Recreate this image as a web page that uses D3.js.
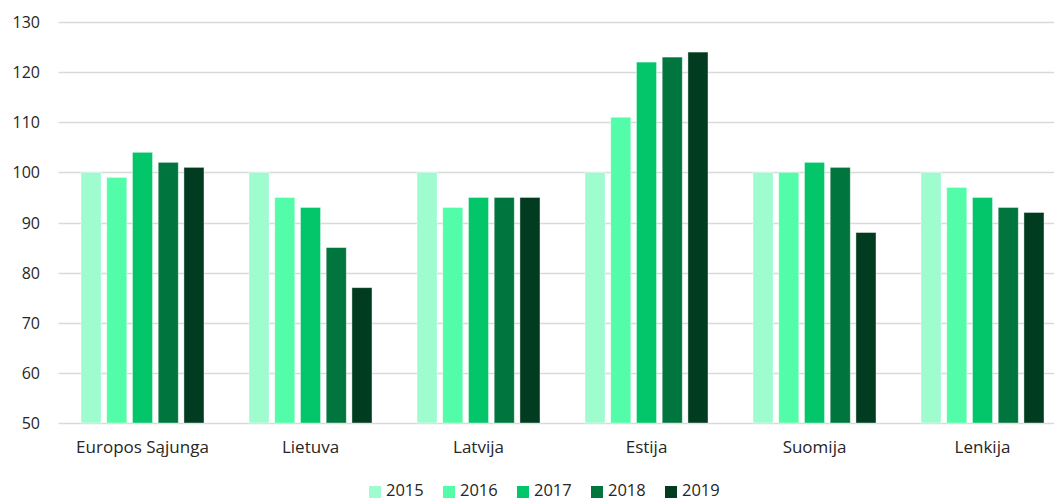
<!DOCTYPE html>
<html><head><meta charset="utf-8">
<script src="https://cdn.jsdelivr.net/npm/d3@7"></script>
<style>
html,body{margin:0;padding:0;background:#fff;overflow:hidden}
text{font-family:"Open Sans",Lato,sans-serif;fill:#262626}
</style></head>
<body><svg id="c" width="1054" height="501"></svg>
<script>
const categories = ["Europos Sąjunga","Lietuva","Latvija","Estija","Suomija","Lenkija"];
const years = ["2015","2016","2017","2018","2019"];
const v2015 = [100,100,100,100,100,100];
const v2016 = [99,95,93,111,100,97];
const v2017 = [104,93,95,122,102,95];
const v2018 = [102,85,95,123,101,93];
const v2019 = [101,77,95,124,88,92];
const yTicks = [50,60,70,80,90,100,110,120,130];
const colors = ["#9ffccf","#53fca8","#03c66a","#00753d","#013c20"];
const series = [v2015,v2016,v2017,v2018,v2019];

const svg = d3.select("#c");
const x0 = d3.scaleBand().domain(categories).range([58.5,1066.5]).paddingInner(0).paddingOuter(0);
const x1 = d3.scaleBand().domain(years).range([22.5, 168-22.5]).paddingInner(0.22).paddingOuter(0);
const y = d3.scaleLinear().domain([50,130]).range([423,22]);

// grid
svg.append("g").selectAll("line").data(yTicks).join("line")
  .attr("x1",58.5).attr("x2",1066).attr("y1",d=>Math.round(y(d))+0.5).attr("y2",d=>Math.round(y(d))+0.5)
  .attr("stroke","#d9d9d9").attr("stroke-width",1.3);

// y labels
const yAxis = d3.axisLeft(y).tickValues(yTicks).tickSize(0).tickPadding(0);
const ga = svg.append("g").attr("transform","translate(40,0)").call(yAxis);
ga.select(".domain").remove();
ga.selectAll("text").style("font-size","16px").attr("font-family",null).attr("fill","#262626").attr("dy","0.35em");

// bars
const g = svg.append("g");
categories.forEach((c,ci)=>{
  years.forEach((yr,si)=>{
    const val = series[si][ci];
    g.append("rect")
      .attr("x", x0(c)+x1(yr))
      .attr("y", y(val))
      .attr("width", x1.bandwidth())
      .attr("height", y(50)-y(val))
      .attr("fill", colors[si])
      .attr("stroke","#ffffff").attr("stroke-opacity",0.5).attr("stroke-width",0.8);
  });
});

// x labels
const xAxis = d3.axisBottom(x0).tickSize(0).tickPadding(0);
const gx = svg.append("g").attr("transform","translate(0,441)").call(xAxis);
gx.select(".domain").remove();
gx.selectAll("text").style("font-size","17px").attr("font-family",null).attr("fill","#262626").attr("dy","0.71em");

// legend
const lg = svg.append("g");
years.forEach((yr,i)=>{
  const lx = 369 + i*74;
  lg.append("rect").attr("x",lx).attr("y",486).attr("width",12).attr("height",12).attr("fill",colors[i]);
  lg.append("text").attr("x",lx+17).attr("y",496).style("font-size","16.5px").text(yr);
});
</script></body></html>
